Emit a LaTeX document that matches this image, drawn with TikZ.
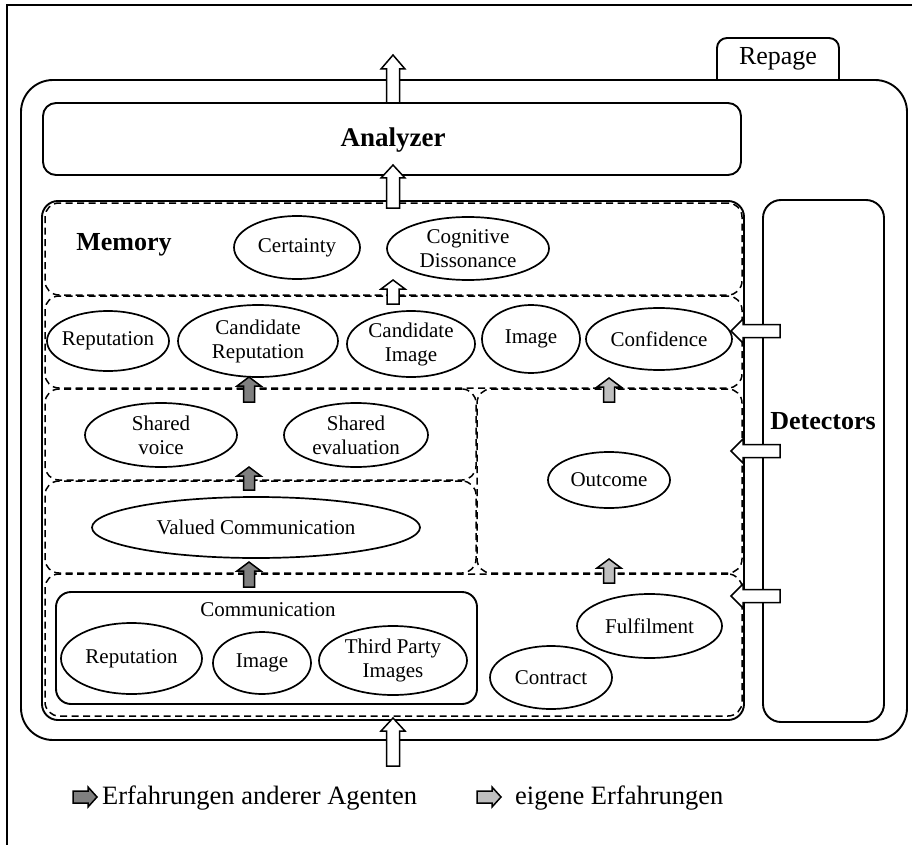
\documentclass[tikz,border=0pt]{standalone}
\usepackage{fontspec}
\setmainfont{Liberation Serif}
\usetikzlibrary{shapes.geometric}

% ellipse with a named text node at its centre
\newcommand\ovalnode[6]{%
  \node[lbl] (#1) at (#2,#3) {#6};
  \draw[ovline] (#1.center) ellipse [x radius=#4, y radius=#5];}

\tikzset{
  thick2/.style={line width=1.9pt},
  solidbox/.style={draw, line width=1.9pt, rounded corners=#1, inner sep=0pt},
  layer/.style={draw, line width=1.5pt, dash pattern=on 7pt off 4.5pt, rounded corners=14pt, inner sep=0pt},
  ovline/.style={line width=1.7pt},
  lbl/.style={align=center, inner sep=0pt, font=\fontsize{21}{24}\selectfont},
  bold/.style={inner sep=0pt, font=\fontsize{26}{30}\selectfont\bfseries},
  legendtxt/.style={anchor=west, inner sep=0pt, font=\fontsize{26.5}{30}\selectfont},
  % block arrow along local +x: length, shaft half width, head half width, head length, fill
  pics/blockarrow/.style n args={5}{code={
    \draw[line width=1.5pt, fill=#5, line join=miter]
      (0,-#2) -- ({#1-#4},-#2) -- ({#1-#4},-#3) -- (#1,0) -- ({#1-#4},#3)
      -- ({#1-#4},#2) -- (0,#2) -- cycle;
  }},
}

\begin{document}
\begin{tikzpicture}[x=1pt,y=-1pt]
\useasboundingbox (0,0) rectangle (912,845);

% page frame
\draw[line width=1.5pt] (7,845) -- (7,5) -- (912,5);

% Repage tab and frame
\draw[thick2, rounded corners=10pt] (717,80) -- (717,38) -- (839,38) -- (839,80);
\node[inner sep=0pt, font=\fontsize{26}{30}\selectfont] (repage) at (778,59) {Repage};
\node[solidbox=32pt, fill=white, minimum width=886pt, minimum height=660pt] (frame) at (464,410) {};

% Analyzer
\node[solidbox=13pt, minimum width=698pt, minimum height=72pt] (analyzer) at (392,139) {};
\node[bold, font=\fontsize{27}{30}\selectfont\bfseries] (analyzerlbl) at (393,140) {Analyzer};

% Detectors
\node[solidbox=18pt, minimum width=121pt, minimum height=522pt] (detectors) at (823.5,461) {};
\node[bold] (detectorslbl) at (823,421) {Detectors};

% Memory and its layers
\node[solidbox=16pt, minimum width=702pt, minimum height=519pt] (memory) at (393,460.5) {};
\node[layer, minimum width=697pt, minimum height=92pt] (L1) at (393.5,249) {};
\node[layer, minimum width=697pt, minimum height=92pt] (L2) at (393.5,342) {};
\node[layer, minimum width=431pt, minimum height=91pt] (L3a) at (260.5,434.5) {};
\node[layer, minimum width=265pt, minimum height=184pt] (L3b) at (609.5,481) {};
\node[layer, minimum width=431pt, minimum height=92pt] (L4) at (260.5,527) {};
\node[layer, minimum width=697pt, minimum height=142pt] (L5) at (393.5,645) {};

\node[bold] (memorylbl) at (124,245) {Memory};

% first layer
\ovalnode{certainty}{297}{247.5}{63}{31.5}{Certainty}
\ovalnode{cogdis}{468}{248.5}{81}{31.5}{Cognitive\\Dissonance}

% second layer
\ovalnode{rep}{108}{341}{61}{30}{Reputation}
\ovalnode{candrep}{258}{341}{80}{36}{Candidate\\Reputation}
\ovalnode{candimg}{411}{344}{64}{33}{Candidate\\Image}
\ovalnode{img}{531}{339}{49}{34}{Image}
\ovalnode{conf}{659}{339}{73}{31}{Confidence}

% shared layer
\ovalnode{svoice}{161}{435}{76}{32}{Shared\\voice}
\ovalnode{seval}{356}{435}{72}{32}{Shared\\evaluation}

% outcome and valued communication
\ovalnode{outcome}{609}{480}{61}{28}{Outcome}
\ovalnode{valued}{256}{527.5}{164}{30.5}{Valued Communication}

% communication and direct experience
\node[solidbox=15pt, minimum width=421pt, minimum height=112pt] (comm) at (266.5,648) {};
\node[lbl] (commlbl) at (268,610) {Communication};
\ovalnode{crep}{131.5}{658.5}{70.5}{35.5}{Reputation}
\ovalnode{cimg}{262}{663}{49}{31}{Image}
\ovalnode{ctpi}{393}{660.5}{74}{34.5}{Third Party\\Images}
\ovalnode{contract}{551}{677.5}{61}{31.5}{Contract}
\ovalnode{fulfil}{649.5}{626}{72.5}{32}{Fulfilment}

% white flow arrows
\pic[rotate=90] at (393,103) {blockarrow={48}{6.5}{12}{14}{white}};
\pic[rotate=90] at (393,208) {blockarrow={43}{6.5}{12}{13}{white}};
\pic[rotate=90] at (393,304) {blockarrow={24}{6}{12}{9}{white}};
\pic[rotate=90] at (393,766) {blockarrow={48}{6.5}{12}{13}{white}};

% experience of other agents
\pic[rotate=90] at (249,402) {blockarrow={25}{5.5}{12}{9}{black!50}};
\pic[rotate=90] at (249,490) {blockarrow={23}{5.5}{12}{9}{black!50}};
\pic[rotate=90] at (249,587) {blockarrow={25}{5.5}{12}{9}{black!50}};

% own experience
\pic[rotate=90] at (609,402) {blockarrow={24}{5.5}{12}{9}{black!25}};
\pic[rotate=90] at (609,583) {blockarrow={24}{5.5}{12}{9}{black!25}};

% detector outputs
\pic[rotate=180] at (780,331) {blockarrow={49}{6.5}{12}{12}{white}};
\pic[rotate=180] at (780,451) {blockarrow={49}{6.5}{12}{12}{white}};
\pic[rotate=180] at (780,596) {blockarrow={49}{6.5}{12}{12}{white}};

% legend
\pic at (73,797) {blockarrow={24}{6}{10}{9}{black!50}};
\node[legendtxt] (leg1) at (102,798) {Erfahrungen anderer Agenten};
\pic at (477,797) {blockarrow={24}{6}{10}{9}{black!25}};
\node[legendtxt] (leg2) at (515,798) {eigene Erfahrungen};
\end{tikzpicture}
\end{document}
